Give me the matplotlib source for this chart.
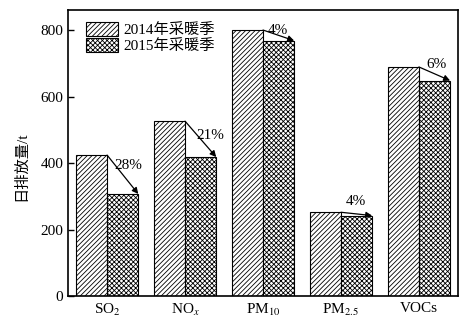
import numpy as np
import matplotlib
matplotlib.use('Agg')
import matplotlib.pyplot as plt

# 字体设置:西文用衬线体,中文用 Noto Sans CJK
plt.rcParams['font.family'] = ['Liberation Serif', 'Noto Sans CJK SC']
plt.rcParams['mathtext.fontset'] = 'stix'
plt.rcParams['hatch.linewidth'] = 0.6

# 数据
pollutants = [r'SO$_2$', r'NO$_x$', r'PM$_{10}$', r'PM$_{2.5}$', 'VOCs']
emis_2014 = [424, 526, 800, 252, 689]
emis_2015 = [307, 418, 768, 242, 648]
drop_pct = ['28%', '21%', '4%', '4%', '6%']
series_names = ['2014年采暖季', '2015年采暖季']
yticks = [0, 200, 400, 600, 800]

fig = plt.figure(figsize=(4.73, 3.25), dpi=100)
ax = fig.add_axes([0.144, 0.089, 0.824, 0.880])

x = np.arange(len(pollutants))
w = 0.4

ax.bar(x - w / 2, emis_2014, w, facecolor='white', edgecolor='black',
       hatch='///////', linewidth=0.8, label=series_names[0])
ax.bar(x + w / 2, emis_2015, w, facecolor='white', edgecolor='black',
       hatch='xxxxxxx', linewidth=0.8, label=series_names[1])

# 降幅箭头及百分比标注位置(相对组中心的偏移)
lab_dx = [0.27, 0.33, 0.19, 0.19, 0.23]
lab_dy = [28, 12, 16, 36, 27]
for i in range(len(pollutants)):
    x0 = x[i]
    x1 = x[i] + w
    ax.annotate('', xy=(x1, emis_2015[i]), xytext=(x0, emis_2014[i]),
                arrowprops=dict(arrowstyle='-|>', color='black', lw=0.9,
                                mutation_scale=9, shrinkA=0, shrinkB=0))
    ax.text(x0 + lab_dx[i], (emis_2014[i] + emis_2015[i]) / 2 + lab_dy[i],
            drop_pct[i], ha='center', va='center', fontsize=11)

ax.set_xlim(-0.5, len(pollutants) - 0.5)
ax.set_ylim(0, 860)
ax.set_yticks(yticks)
ax.set_xticks(x)
ax.set_xticklabels(pollutants, fontsize=11)
ax.tick_params(axis='y', direction='in', length=4, labelsize=11, width=1)
ax.tick_params(axis='x', length=0, pad=4)
ax.set_ylabel('日排放量/t', fontsize=11)
ax.yaxis.set_label_coords(-0.103, 0.455)

for s in ax.spines.values():
    s.set_linewidth(1.2)

ax.legend(loc='upper left', bbox_to_anchor=(0.047, 0.958), frameon=False,
          fontsize=11, handlelength=2.05, handleheight=1.0,
          labelspacing=0.05, handletextpad=0.4, borderpad=0,
          borderaxespad=0)

plt.savefig('out.png', dpi=100)
